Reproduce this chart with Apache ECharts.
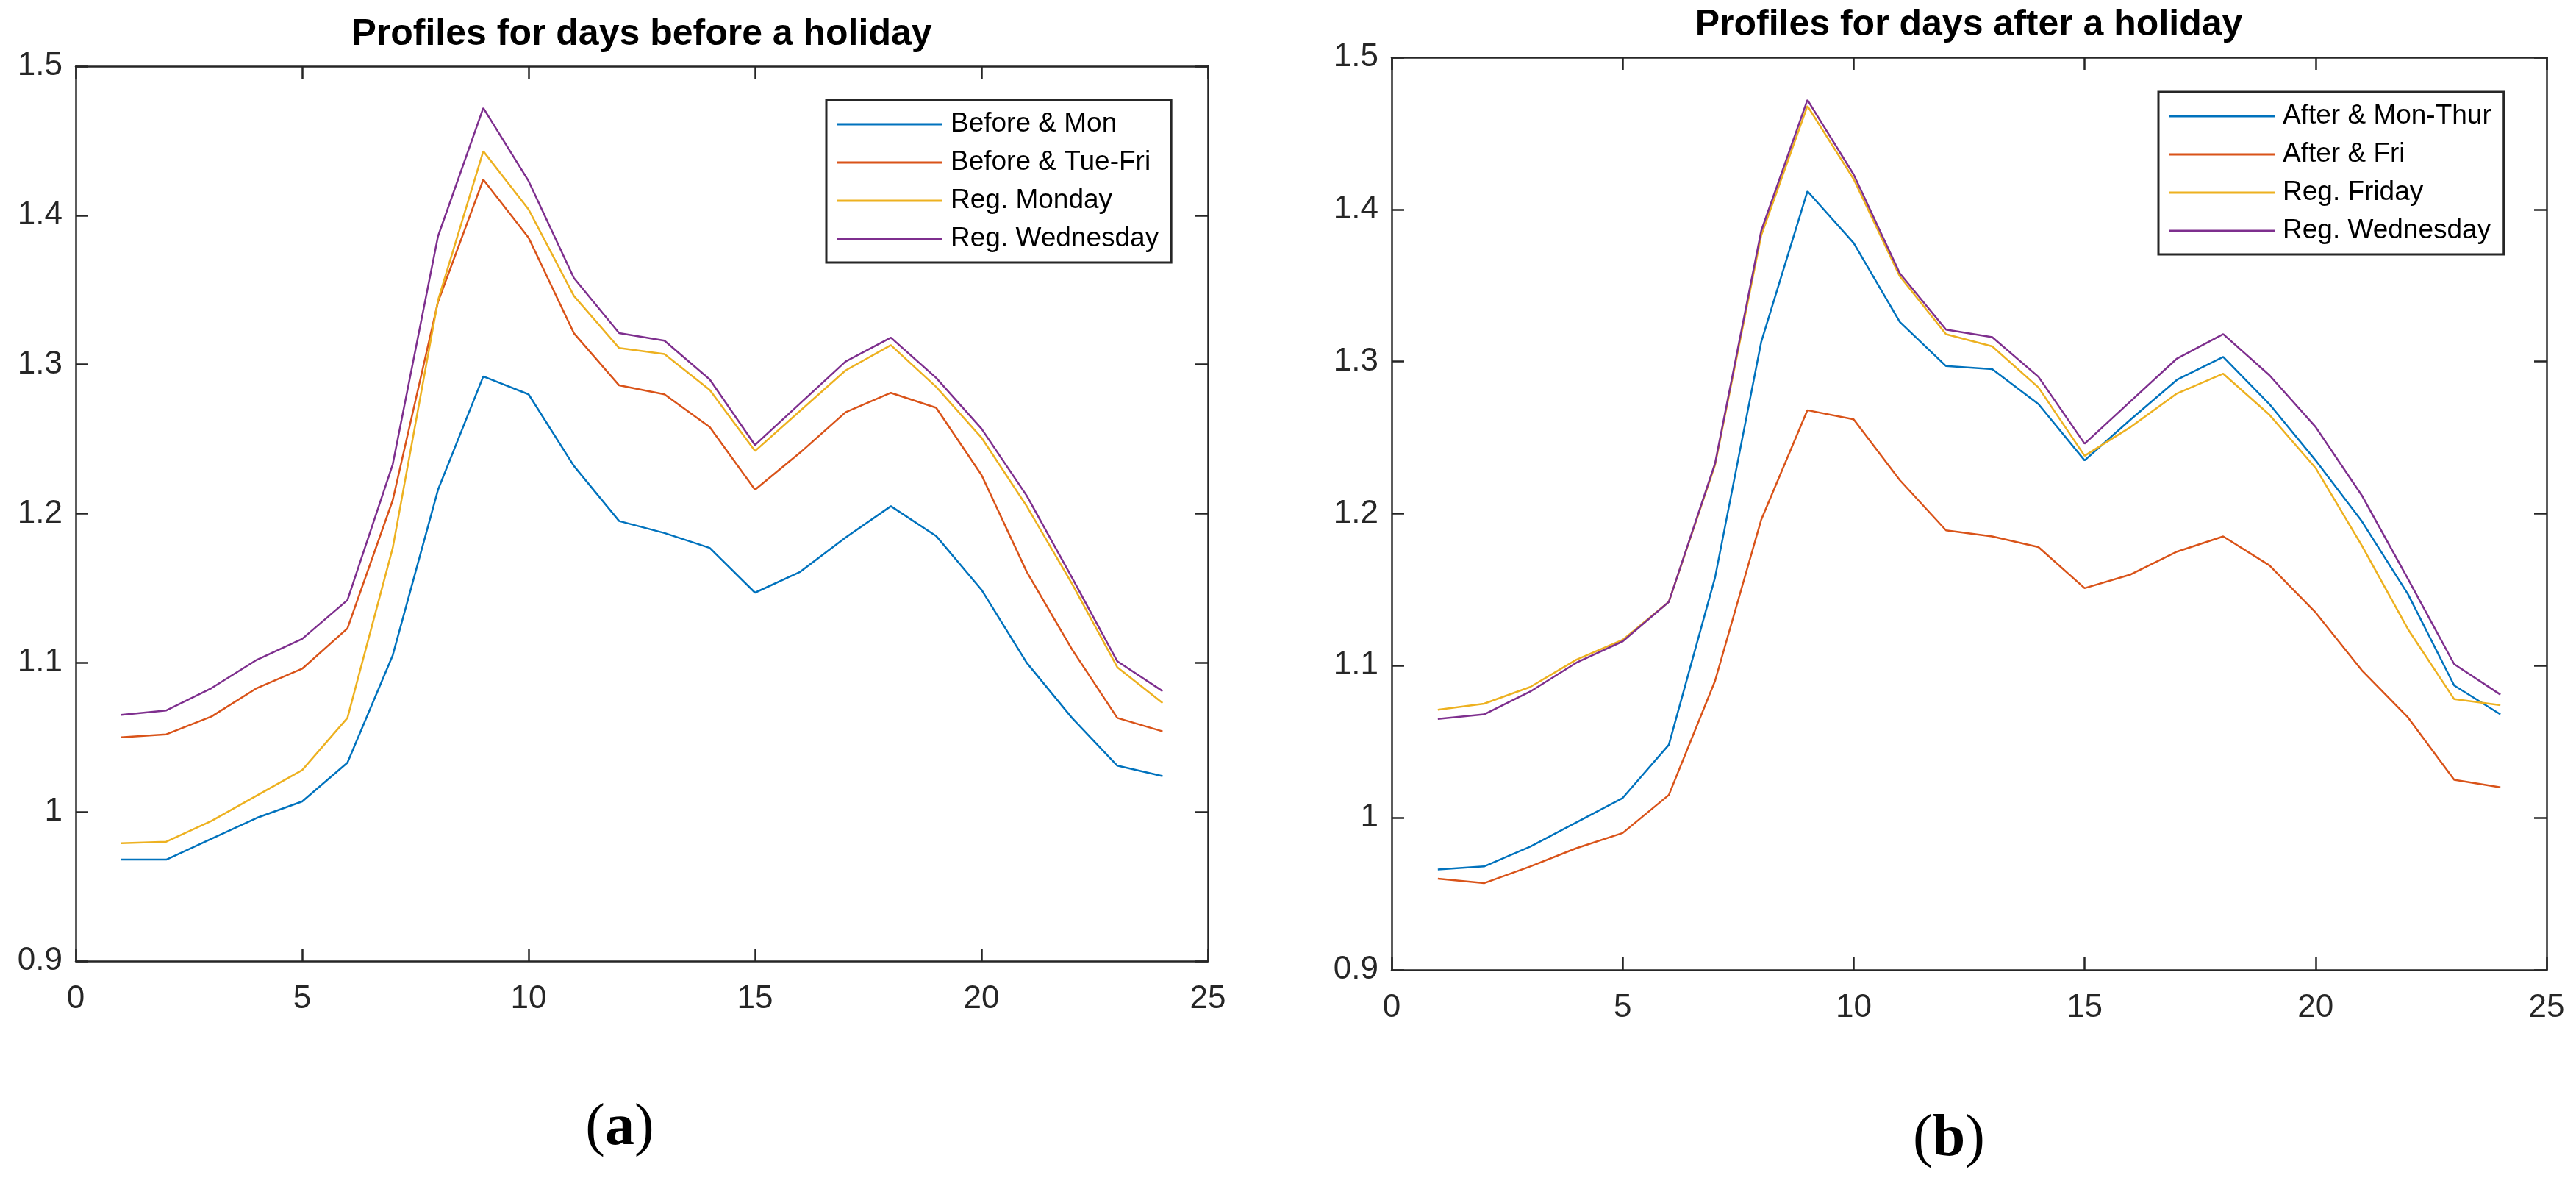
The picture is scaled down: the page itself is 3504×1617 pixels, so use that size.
<!DOCTYPE html>
<html>
<head>
<meta charset="utf-8">
<script src="https://cdn.jsdelivr.net/npm/echarts@6/dist/echarts.min.js"></script>
<style>
html,body{margin:0;padding:0;background:#fff;}
#chart{width:3504px;height:1617px;}
</style>
</head>
<body>
<div id="chart"></div>
<script>
var hours = [1,2,3,4,5,6,7,8,9,10,11,12,13,14,15,16,17,18,19,20,21,22,23,24];
var xTicks = [0, 25, 5];
var yTicks = [0.9, 1.5, 0.1];

var beforeMon    = [0.968,0.968,0.982,0.996,1.007,1.033,1.105,1.216,1.292,1.280,1.232,1.195,1.187,1.177,1.147,1.161,1.184,1.205,1.185,1.149,1.100,1.063,1.031,1.024];
var beforeTueFri = [1.050,1.052,1.064,1.083,1.096,1.123,1.209,1.342,1.424,1.385,1.321,1.286,1.280,1.258,1.216,1.241,1.268,1.281,1.271,1.226,1.161,1.109,1.063,1.054];
var regMonday    = [0.979,0.980,0.994,1.011,1.028,1.063,1.177,1.343,1.443,1.404,1.346,1.311,1.307,1.283,1.242,1.269,1.296,1.313,1.285,1.251,1.205,1.153,1.097,1.073];
var regWednesday = [1.065,1.068,1.083,1.102,1.116,1.142,1.233,1.386,1.472,1.423,1.358,1.321,1.316,1.290,1.246,1.274,1.302,1.318,1.291,1.257,1.212,1.157,1.101,1.081];

var afterMonThur = [0.966,0.968,0.981,0.997,1.013,1.048,1.158,1.313,1.412,1.378,1.326,1.297,1.295,1.272,1.235,1.262,1.288,1.303,1.272,1.235,1.195,1.147,1.087,1.068];
var afterFri     = [0.960,0.957,0.968,0.980,0.990,1.015,1.090,1.196,1.268,1.262,1.222,1.189,1.185,1.178,1.151,1.160,1.175,1.185,1.166,1.135,1.097,1.066,1.025,1.020];
var regFriday    = [1.071,1.075,1.086,1.104,1.117,1.142,1.232,1.383,1.468,1.420,1.356,1.318,1.310,1.283,1.238,1.257,1.279,1.292,1.265,1.230,1.179,1.124,1.078,1.074];

var titleA = 'Profiles for days before a holiday';
var titleB = 'Profiles for days after a holiday';
var namesA = ['Before & Mon','Before & Tue-Fri','Reg. Monday','Reg. Wednesday'];
var namesB = ['After & Mon-Thur','After & Fri','Reg. Friday','Reg. Wednesday'];
var colors = ['#0072BD','#D95319','#EDB120','#7E2F8E'];

var AXC = '#262626';
var FONT = '"Liberation Sans", Arial, Helvetica, sans-serif';

function pairs(arr){ return hours.map(function(h,i){ return [h, arr[i]]; }); }

function xAx(grid, pos, labels){
  return {
    type:'value', gridIndex:grid, position:pos, min:xTicks[0], max:xTicks[1], interval:xTicks[2],
    axisLine:{show:true, onZero:false, lineStyle:{color:AXC, width:2.5}},
    axisTick:{show:true, inside:true, length:17, lineStyle:{color:AXC, width:2.5}},
    axisLabel:{show:labels, margin:30, color:AXC, fontSize:44, fontFamily:FONT},
    splitLine:{show:false}
  };
}
function yAx(grid, pos, labels){
  return {
    type:'value', gridIndex:grid, position:pos, min:yTicks[0], max:yTicks[1], interval:yTicks[2],
    axisLine:{show:true, onZero:false, lineStyle:{color:AXC, width:2.5}},
    axisTick:{show:true, inside:true, length:17, lineStyle:{color:AXC, width:2.5}},
    axisLabel:{show:labels, margin:18, color:AXC, fontSize:44, fontFamily:FONT,
      formatter:function(v){ return String(+(+v).toFixed(1)); }},
    splitLine:{show:false}
  };
}

function line(name, data, grid, color){
  return {
    type:'line', name:name, xAxisIndex:grid*2, yAxisIndex:grid*2, data:pairs(data),
    showSymbol:false, symbol:'none', color:color,
    lineStyle:{color:color, width:2.5}, emphasis:{disabled:true}, silent:true
  };
}

function legend(names, left, top){
  return {
    orient:'vertical', left:left, top:top, data:names,
    icon:'rect', itemWidth:143, itemHeight:3, itemGap:12,
    padding:[13,17,12,15],
    borderColor:AXC, borderWidth:3, backgroundColor:'#fff',
    textStyle:{fontSize:37, lineHeight:40, color:'#000', fontFamily:FONT, padding:[0,0,0,6]},
    selectedMode:false
  };
}

var chart = echarts.init(document.getElementById('chart'), null, {renderer:'canvas'});
chart.setOption({
  animation:false,
  backgroundColor:'#fff',
  grid:[
    {left:103, right:1861, top:90, bottom:310, containLabel:false},
    {left:1893, right:40, top:78, bottom:298, containLabel:false}
  ].map(function(g){ g.right = 3504 - (g.left + (3504 - g.left - g.right)); return g; }),
  xAxis:[xAx(0,'bottom',true), xAx(0,'top',false), xAx(1,'bottom',true), xAx(1,'top',false)],
  yAxis:[yAx(0,'left',true), yAx(0,'right',false), yAx(1,'left',true), yAx(1,'right',false)],
  legend:[legend(namesA, 1124, 136), legend(namesB, 2936, 125)],
  series:[
    line(namesA[0], beforeMon, 0, colors[0]),
    line(namesA[1], beforeTueFri, 0, colors[1]),
    line(namesA[2], regMonday, 0, colors[2]),
    line(namesA[3], regWednesday, 0, colors[3]),
    line(namesB[0], afterMonThur, 1, colors[0]),
    line(namesB[1], afterFri, 1, colors[1]),
    line(namesB[2], regFriday, 1, colors[2]),
    line(namesB[3], regWednesday, 1, colors[3])
  ],
  graphic:[
    {type:'text', x:873, y:47, style:{text:titleA, font:'bold 50px ' + FONT, fill:'#000', align:'center', verticalAlign:'middle', textAlign:'center', textVerticalAlign:'middle'}},
    {type:'text', x:2678, y:34, style:{text:titleB, font:'bold 50px ' + FONT, fill:'#000', align:'center', verticalAlign:'middle', textAlign:'center', textVerticalAlign:'middle'}},
    {type:'text', x:843, y:1535, style:{text:'{p|(}{b|a}{p|)}', align:'center', verticalAlign:'middle', textAlign:'center', textVerticalAlign:'middle',
      rich:{p:{fontSize:80, fontFamily:'"Liberation Serif", "DejaVu Serif", serif', fill:'#000', color:'#000'}, b:{fontSize:80, fontWeight:'bold', fontFamily:'"Liberation Serif", "DejaVu Serif", serif', fill:'#000', color:'#000'}}}},
    {type:'text', x:2651, y:1550, style:{text:'{p|(}{b|b}{p|)}', align:'center', verticalAlign:'middle', textAlign:'center', textVerticalAlign:'middle',
      rich:{p:{fontSize:80, fontFamily:'"Liberation Serif", "DejaVu Serif", serif', fill:'#000', color:'#000'}, b:{fontSize:80, fontWeight:'bold', fontFamily:'"Liberation Serif", "DejaVu Serif", serif', fill:'#000', color:'#000'}}}}
  ]
});
</script>
</body>
</html>
